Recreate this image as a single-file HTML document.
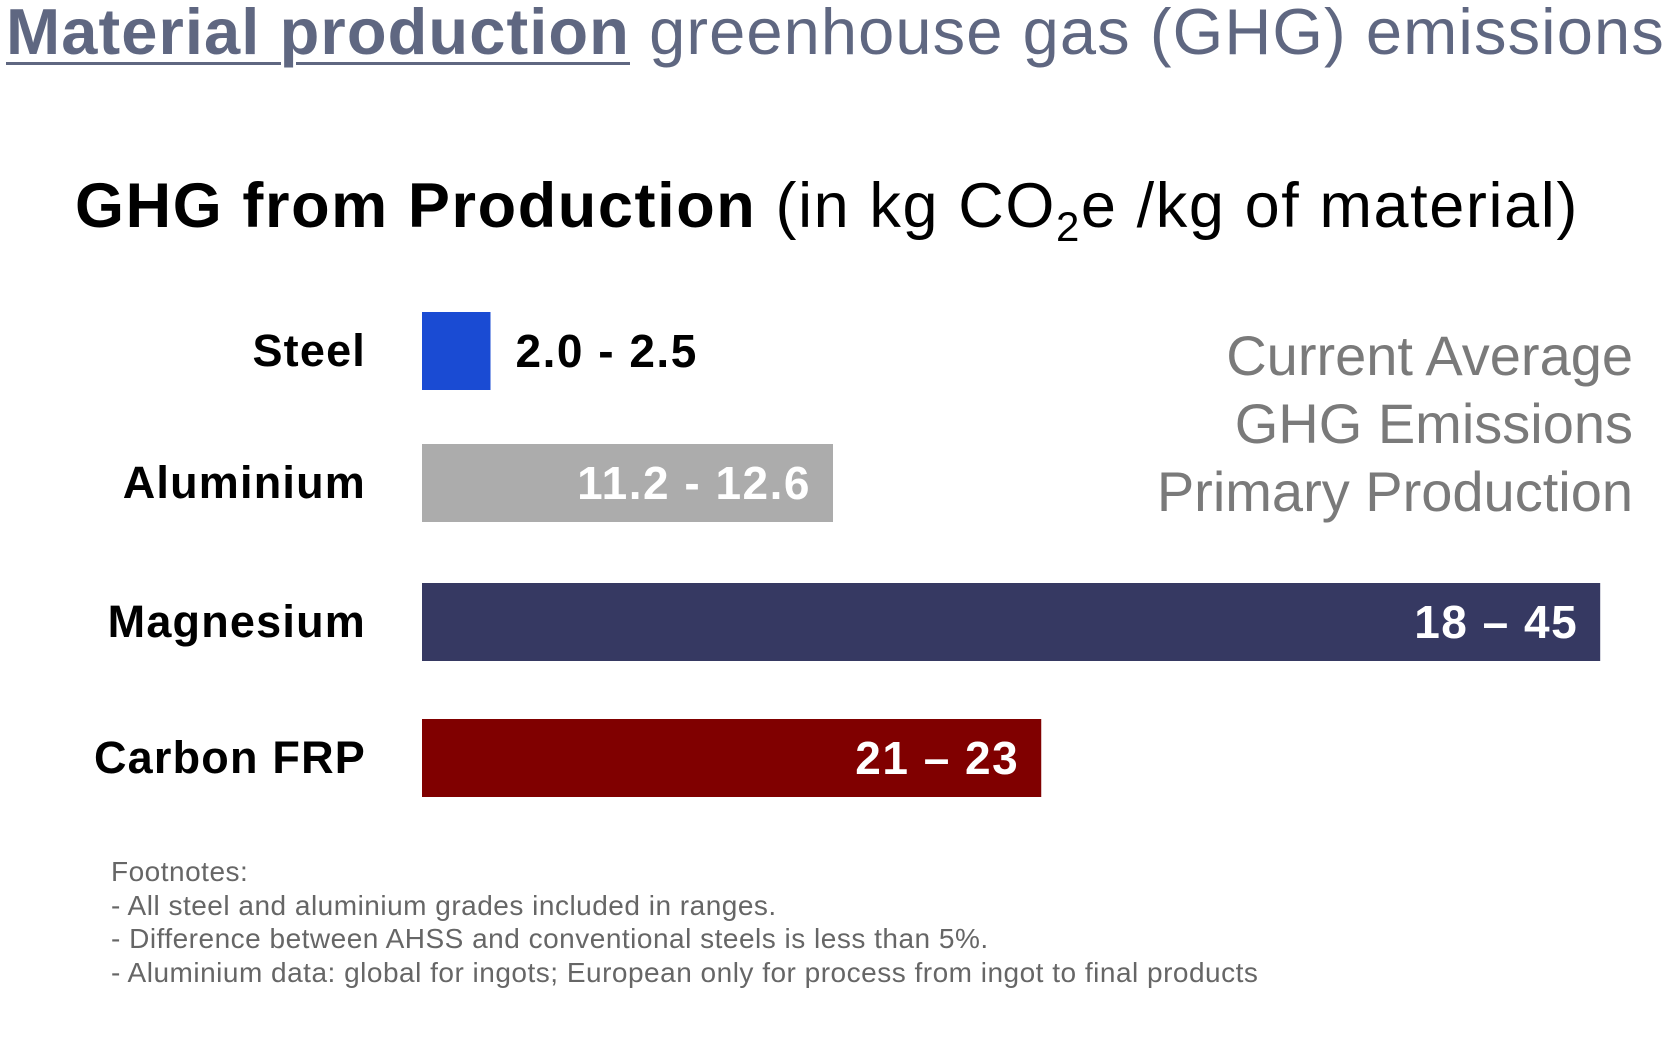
<!DOCTYPE html>
<html><head><meta charset="utf-8"><style>
body{margin:0;width:1665px;height:1050px;background:#fff;overflow:hidden;font-family:"Liberation Sans",sans-serif;position:relative}
.a{position:absolute;white-space:nowrap}
</style></head><body>
<div class="a" style="left:6px;top:-6px;font-size:65px;color:#5f6781;letter-spacing:1.1px"><span style="font-weight:bold;text-decoration:underline;text-decoration-thickness:3px;text-underline-offset:8px">Material production</span> greenhouse gas (GHG) emissions:</div>
<div class="a" style="left:75px;top:170px;font-size:63px;color:#000;letter-spacing:1.6px"><b>GHG from Production</b> (in kg CO<sub style="font-size:42px;vertical-align:-14px">2</sub>e /kg of material)</div>
<div class="a" style="right:32px;top:322px;font-size:56px;color:#7a7a7a;text-align:right;line-height:68px">Current Average<br>GHG Emissions<br>Primary Production</div>
<div class="a" style="left:111px;top:855px;font-size:28px;color:#666;line-height:33.5px;letter-spacing:0.5px">Footnotes:<br>- All steel and aluminium grades included in ranges.<br>- Difference between AHSS and conventional steels is less than 5%.<br>- Aluminium data: global for ingots; European only for process from ingot to final products</div>
<svg id="chart" class="a" style="left:0;top:0" width="1665" height="1050"></svg>
<script>
const categories=["Steel","Aluminium","Magnesium","Carbon FRP"];
const barValues=[2.5,15,43,22.6];
const valueLabels=["2.0 - 2.5","11.2 - 12.6","18 \u2013 45","21 \u2013 23"];
const colors=["#1a4bd3","#acacac","#363962","#800000"];
const rowTop=[312,444,583,719];
const x0=422,k=27.4,bh=78;
const xs=v=>x0+v*k;
const svg=document.getElementById('chart');
const NS='http://www.w3.org/2000/svg';
categories.forEach((c,i)=>{
 const y=rowTop[i];
 const r=document.createElementNS(NS,'rect');
 r.setAttribute('x',x0);r.setAttribute('y',y);r.setAttribute('width',xs(barValues[i])-x0);r.setAttribute('height',bh);r.setAttribute('fill',colors[i]);
 
 
 svg.appendChild(r);
 const t=document.createElementNS(NS,'text');
 t.setAttribute('x',366);t.setAttribute('y',y+bh/2+15);t.setAttribute('text-anchor','end');
 t.setAttribute('font-size','45');t.setAttribute('font-weight','bold');t.setAttribute('font-family','Liberation Sans, sans-serif');
 t.setAttribute('letter-spacing','1.2');
 t.textContent=c;
 
 
 svg.appendChild(t);
 const v=document.createElementNS(NS,'text');
 const inside=i>0;
 v.setAttribute('x',inside?xs(barValues[i])-22:xs(barValues[i])+25);
 v.setAttribute('y',y+bh/2+16);
 v.setAttribute('text-anchor',inside?'end':'start');
 v.setAttribute('font-size','46');v.setAttribute('font-weight','bold');v.setAttribute('font-family','Liberation Sans, sans-serif');
 v.setAttribute('letter-spacing','1.5');
 v.setAttribute('fill',inside?'#fff':'#000');
 v.textContent=valueLabels[i];
 
 
 svg.appendChild(v);
});
</script>
</body></html>
